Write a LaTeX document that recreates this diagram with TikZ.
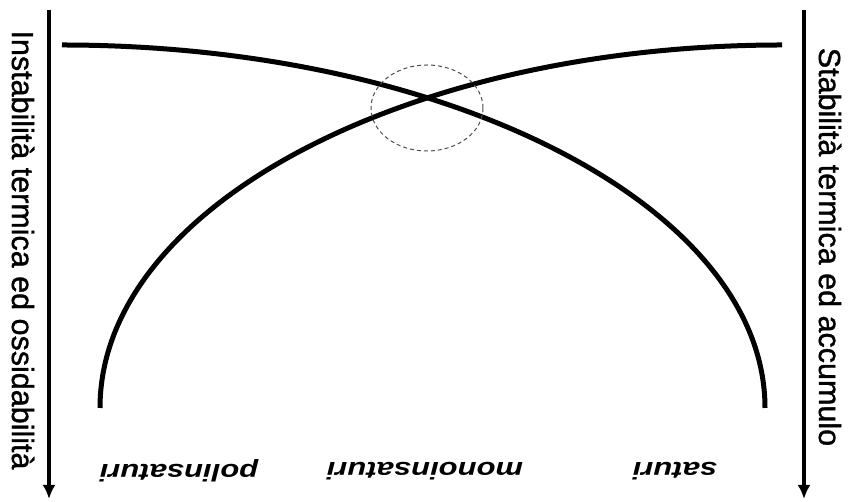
\documentclass[tikz,border=0pt]{standalone}
\usepackage{fontspec}
\setmainfont{Liberation Sans}
\newfontfamily\sidefont{Liberation Sans}[FakeBold=1.2]
\usepackage{tikz}
\usetikzlibrary{arrows.meta,positioning}
\tikzset{
  curve/.style={draw=black, line width=5pt},
  axisarrow/.style={-{Latex[length=14pt,width=13pt]}, draw=black, line width=3.6pt},
  zone/.style={draw=black!70, line width=1pt, dash pattern=on 4pt off 3pt},
  sidelbl/.style={font=\sidefont\fontsize{30.5}{31}\selectfont, rotate=-90, inner sep=0pt, anchor=base},
  classlbl/.style={font=\fontsize{31}{32}\selectfont\bfseries\itshape, yscale=0.78, rotate=180, inner sep=0pt}
}
\begin{document}
\begin{tikzpicture}[x=1pt, y=1pt]
  \useasboundingbox (0,0) rectangle (849,502);
  % axes
  \coordinate (ltop) at (49,492);
  \coordinate (lbot) at (49,3);
  \coordinate (rtop) at (804,492);
  \coordinate (rbot) at (804,3);
  \draw[axisarrow] (ltop) -- (lbot);
  \draw[axisarrow] (rtop) -- (rbot);
  \node[sidelbl] (ltxt) at (12,252) {Instabilità termica ed ossidabilità};
  \node[sidelbl] (rtxt) at (819,255) {Stabilità termica ed accumulo};
  % curves
  \draw[curve] (62,457) arc[start angle=90, end angle=0, x radius=703, y radius=363];
  \draw[curve] (100,94) arc[start angle=180, end angle=90, x radius=682, y radius=363];
  \draw[zone] (427,394) ellipse[x radius=56, y radius=43];
  % classes
  \node[classlbl] (poli) at (179,31) {polinsaturi};
  \node[classlbl] (mono) at (425,31) {monoinsaturi};
  \node[classlbl] (sat) at (675,31) {saturi};
\end{tikzpicture}
\end{document}
